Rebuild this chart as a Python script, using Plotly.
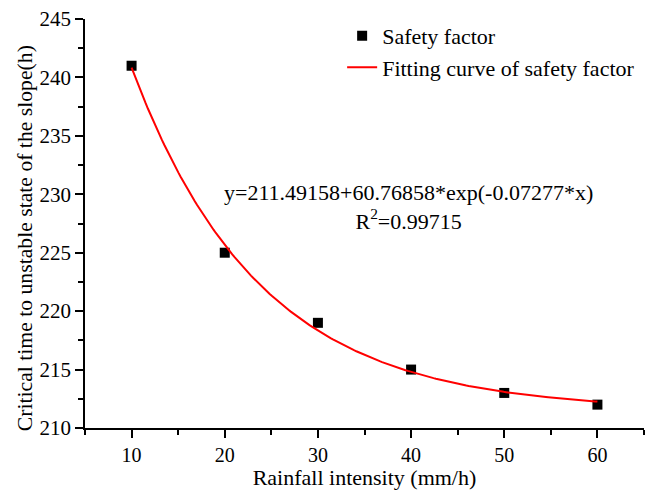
import numpy as np
import plotly.graph_objects as go

# Data
rainfall = [10, 20, 30, 40, 50, 60]
critical_time = [241, 225, 219, 215, 213, 212]

# Fit parameters shown on the chart
fit_a = 211.49158
fit_b = 60.76858
fit_c = -0.07277
r_squared = 0.99715

x_fit = np.linspace(10, 60, 200)
y_fit = fit_a + fit_b * np.exp(fit_c * x_fit)

FONT = "Liberation Serif"

fig = go.Figure()
fig.add_trace(go.Scatter(
    x=rainfall, y=critical_time, mode="markers", name="Safety factor",
    marker=dict(symbol="square", size=10, color="black"),
))
fig.add_trace(go.Scatter(
    x=x_fit, y=y_fit, mode="lines", name="Fitting curve of safety factor",
    line=dict(color="red", width=2),
))

fig.add_annotation(
    x=0.579, y=0.540, xref="paper", yref="paper",
    text=f"y={fit_a:.5f}+{fit_b:.5f}*exp({fit_c:.5f}*x)<br>R<sup>2</sup>={r_squared:.5f}",
    showarrow=False, font=dict(family=FONT, size=22, color="black"),
    align="center", xanchor="center", yanchor="middle",
)

# Y-axis title (slightly below plot centre, as in the reference)
fig.add_annotation(
    x=-0.107, y=0.4645, xref="paper", yref="paper",
    text="Critical time to unstable state of the slope(h)",
    showarrow=False, textangle=-90,
    font=dict(family=FONT, size=21.7, color="black"),
    xanchor="center", yanchor="middle",
)

axis_common = dict(
    showline=True, linecolor="black", linewidth=1.5,
    ticks="outside", ticklen=8, tickwidth=1.5, tickcolor="black",
    showgrid=False, zeroline=False,
)

fig.update_xaxes(
    range=[5, 65], tickmode="linear", tick0=10, dtick=10,
    minor=dict(ticks="outside", ticklen=5, tickwidth=1.5, tickcolor="black", dtick=5, tick0=5),
    tickfont=dict(family=FONT, size=20, color="black"),
    title=dict(text="Rainfall intensity (mm/h)", font=dict(family=FONT, size=22, color="black"), standoff=2),
    **axis_common,
)
fig.update_yaxes(
    range=[210, 245], tickmode="linear", tick0=210, dtick=5,
    minor=dict(ticks="outside", ticklen=5, tickwidth=1.5, tickcolor="black", dtick=2.5, tick0=210),
    tickfont=dict(family=FONT, size=21, color="black"),
    **axis_common,
)

fig.update_layout(
    width=651, height=490, autosize=False,
    margin=dict(l=85, r=7, t=19, b=62),
    paper_bgcolor="white", plot_bgcolor="white",
    font=dict(family=FONT, color="black"),
    legend=dict(x=0.46, y=1.01, xanchor="left", yanchor="top",
                font=dict(family=FONT, size=22, color="black"),
                bgcolor="rgba(0,0,0,0)", tracegroupgap=0),
)

fig.write_html("out.html")
